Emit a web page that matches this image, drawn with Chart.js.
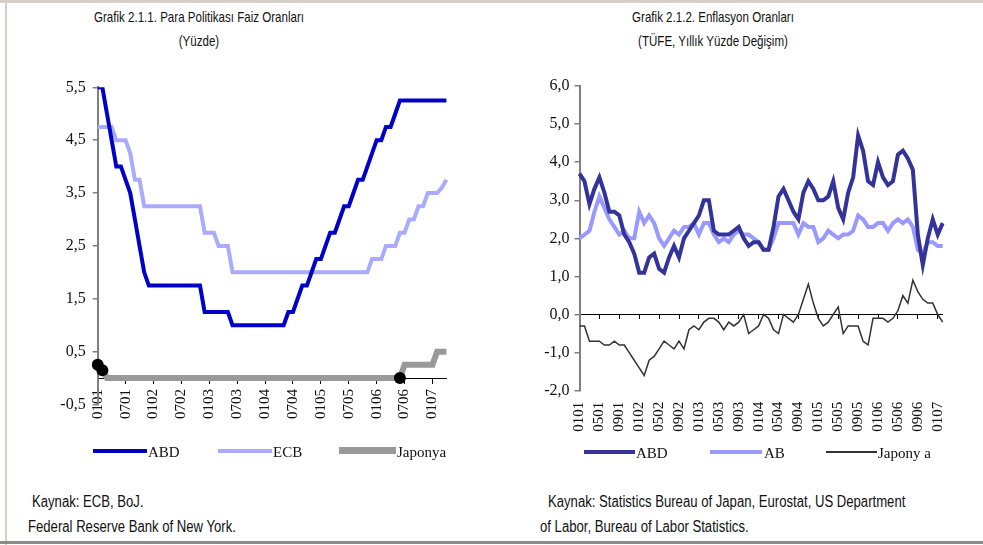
<!DOCTYPE html>
<html>
<head>
<meta charset="utf-8">
<script src="https://cdn.jsdelivr.net/npm/chart.js@4"></script>
<style>
  html, body { margin: 0; background: #fff; overflow: hidden; }
  #page { position: relative; width: 983px; height: 545px; background: #fff; overflow: hidden; }
  .abs { position: absolute; }
  .narrow { font-family: "Liberation Sans", Arial, sans-serif; color: #111; white-space: nowrap; }
  .title { font-size: 15px; line-height: 24px; text-align: center; width: 400px; transform: scaleX(0.77); transform-origin: 200px 0; }
  .cap { font-size: 16px; line-height: 25px; transform: scaleX(0.82); transform-origin: 0 0; }
  .serif { font-family: "Liberation Serif", "Times New Roman", serif; font-size: 15px; color: #111; line-height: 20px; white-space: nowrap; }
</style>
</head>
<body>
<div id="page">
  <div class="abs" style="left:0;top:0;width:983px;height:3px;background:#d4d0c8"></div>
  <div class="abs" style="left:5px;top:0;width:2px;height:545px;background:#d4d0c8"></div>
  <div class="abs" style="left:0;top:541px;width:983px;height:3px;background:#8a8a8a"></div>

  <div class="abs narrow title" style="left:-1px;top:5px">Grafik 2.1.1. Para Politikası Faiz Oranları<br>(Yüzde)</div>
  <div class="abs narrow title" style="left:513px;top:5px">Grafik 2.1.2. Enflasyon Oranları<br>(TÜFE, Yıllık Yüzde Değişim)</div>

  <canvas id="left" class="abs" style="left:0;top:0" width="491" height="470"></canvas>
  <canvas id="right" class="abs" style="left:491px;top:0" width="492" height="470"></canvas>

  <!-- legends -->
  <div class="abs" style="left:93px;top:449px;width:54px;height:4px;background:#0000c8"></div>
  <div class="abs serif" style="left:148px;top:442px">ABD</div>
  <div class="abs" style="left:218px;top:449px;width:54px;height:4px;background:#aaaaff"></div>
  <div class="abs serif" style="left:273px;top:442px">ECB</div>
  <div class="abs" style="left:339px;top:447px;width:57px;height:7px;background:#999999"></div>
  <div class="abs serif" style="left:397px;top:442px">Japonya</div>

  <div class="abs" style="left:584px;top:450px;width:51px;height:4px;background:#333399"></div>
  <div class="abs serif" style="left:636px;top:443px">ABD</div>
  <div class="abs" style="left:710px;top:450px;width:52px;height:4px;background:#9999ff"></div>
  <div class="abs serif" style="left:764px;top:443px">AB</div>
  <div class="abs" style="left:826px;top:451px;width:51px;height:2px;background:#333333"></div>
  <div class="abs serif" style="left:878px;top:443px">Japony a</div>

  <div class="abs narrow cap" style="left:32px;top:489px">Kaynak: ECB, BoJ.</div>
  <div class="abs narrow cap" style="left:28px;top:514px">Federal Reserve Bank of New York.</div>
  <div class="abs narrow cap" style="left:548px;top:489px">Kaynak: Statistics Bureau of Japan, Eurostat, US Department</div>
  <div class="abs narrow cap" style="left:540px;top:514px">of Labor, Bureau of Labor Statistics.</div>
</div>

<script>
// months as MMYY, Jan 2001 .. Apr 2007
const months = [
  '0101','0201','0301','0401','0501','0601','0701','0801','0901','1001','1101','1201',
  '0102','0202','0302','0402','0502','0602','0702','0802','0902','1002','1102','1202',
  '0103','0203','0303','0403','0503','0603','0703','0803','0903','1003','1103','1203',
  '0104','0204','0304','0404','0504','0604','0704','0804','0904','1004','1104','1204',
  '0105','0205','0305','0405','0505','0605','0705','0805','0905','1005','1105','1205',
  '0106','0206','0306','0406','0506','0606','0706','0806','0906','1006','1106','1206',
  '0107','0207','0307','0407'
];
const monthsRight = months.slice(0, 74); // Jan 2001 .. Feb 2007

// policy rates (%)
const fedRate = [
  5.5, 5.5, 5.0, 4.5, 4.0, 4.0, 3.75, 3.5, 3.0, 2.5, 2.0, 1.75,
  1.75, 1.75, 1.75, 1.75, 1.75, 1.75, 1.75, 1.75, 1.75, 1.75, 1.75, 1.25,
  1.25, 1.25, 1.25, 1.25, 1.25, 1.0, 1.0, 1.0, 1.0, 1.0, 1.0, 1.0,
  1.0, 1.0, 1.0, 1.0, 1.0, 1.25, 1.25, 1.5, 1.75, 1.75, 2.0, 2.25,
  2.25, 2.5, 2.75, 2.75, 3.0, 3.25, 3.25, 3.5, 3.75, 3.75, 4.0, 4.25,
  4.5, 4.5, 4.75, 4.75, 5.0, 5.25, 5.25, 5.25, 5.25, 5.25, 5.25, 5.25,
  5.25, 5.25, 5.25, 5.25
];
const ecbRate = [
  4.75, 4.75, 4.75, 4.75, 4.5, 4.5, 4.5, 4.25, 3.75, 3.75, 3.25, 3.25,
  3.25, 3.25, 3.25, 3.25, 3.25, 3.25, 3.25, 3.25, 3.25, 3.25, 3.25, 2.75,
  2.75, 2.75, 2.5, 2.5, 2.5, 2.0, 2.0, 2.0, 2.0, 2.0, 2.0, 2.0,
  2.0, 2.0, 2.0, 2.0, 2.0, 2.0, 2.0, 2.0, 2.0, 2.0, 2.0, 2.0,
  2.0, 2.0, 2.0, 2.0, 2.0, 2.0, 2.0, 2.0, 2.0, 2.0, 2.0, 2.25,
  2.25, 2.25, 2.5, 2.5, 2.5, 2.75, 2.75, 3.0, 3.0, 3.25, 3.25, 3.5,
  3.5, 3.5, 3.6, 3.75
];
const bojRate = [
  0.25, 0.15, 0, 0, 0, 0, 0, 0, 0, 0, 0, 0,
  0, 0, 0, 0, 0, 0, 0, 0, 0, 0, 0, 0,
  0, 0, 0, 0, 0, 0, 0, 0, 0, 0, 0, 0,
  0, 0, 0, 0, 0, 0, 0, 0, 0, 0, 0, 0,
  0, 0, 0, 0, 0, 0, 0, 0, 0, 0, 0, 0,
  0, 0, 0, 0, 0, 0, 0.25, 0.25, 0.25, 0.25, 0.25, 0.25,
  0.25, 0.5, 0.5, 0.5
];
const bojDots = [0, 1, 65];

// CPI, annual % change
const cpiUS = [
  3.7, 3.5, 2.9, 3.3, 3.6, 3.2, 2.7, 2.7, 2.6, 2.1, 1.9, 1.6,
  1.1, 1.1, 1.5, 1.6, 1.2, 1.1, 1.5, 1.8, 1.5, 2.0, 2.2, 2.4,
  2.6, 3.0, 3.0, 2.2, 2.1, 2.1, 2.1, 2.2, 2.3, 2.0, 1.8, 1.9,
  1.9, 1.7, 1.7, 2.3, 3.1, 3.3, 3.0, 2.7, 2.5, 3.2, 3.5, 3.3,
  3.0, 3.0, 3.1, 3.5, 2.8, 2.5, 3.2, 3.6, 4.7, 4.3, 3.5, 3.4,
  4.0, 3.6, 3.4, 3.5, 4.2, 4.3, 4.1, 3.8, 2.1, 1.3, 2.0, 2.5,
  2.1, 2.4
];
const cpiEU = [
  2.0, 2.1, 2.2, 2.7, 3.1, 2.8, 2.5, 2.3, 2.1, 2.2, 2.0, 2.0,
  2.7, 2.4, 2.6, 2.4, 2.0, 1.8, 2.0, 2.2, 2.1, 2.3, 2.3, 2.4,
  2.1, 2.4, 2.4, 2.1, 1.9, 2.0, 1.9, 2.1, 2.2, 2.1, 2.1, 2.0,
  1.9, 1.7, 1.7, 2.0, 2.4, 2.4, 2.4, 2.4, 2.1, 2.4, 2.3, 2.3,
  1.9, 2.0, 2.2, 2.1, 2.0, 2.1, 2.1, 2.2, 2.6, 2.5, 2.3, 2.3,
  2.4, 2.4, 2.2, 2.4, 2.5, 2.4, 2.5, 2.3, 1.7, 1.6, 1.9, 1.9,
  1.8, 1.8
];
const cpiJP = [
  -0.3, -0.3, -0.7, -0.7, -0.7, -0.8, -0.8, -0.7, -0.8, -0.8, -1.0, -1.2,
  -1.4, -1.6, -1.2, -1.1, -0.9, -0.7, -0.8, -0.9, -0.7, -0.9, -0.4, -0.3,
  -0.4, -0.2, -0.1, -0.1, -0.2, -0.4, -0.2, -0.3, -0.2, 0.0, -0.5, -0.4,
  -0.3, 0.0, -0.1, -0.4, -0.5, 0.0, -0.1, -0.2, 0.0, 0.4, 0.8, 0.3,
  -0.1, -0.3, -0.2, 0.0, 0.2, -0.5, -0.3, -0.3, -0.3, -0.7, -0.8, -0.1,
  -0.1, -0.1, -0.2, -0.1, 0.1, 0.5, 0.3, 0.9, 0.6, 0.4, 0.3, 0.3,
  0.0, -0.2
];

const yTicksLeft = [-0.5, 0.5, 1.5, 2.5, 3.5, 4.5, 5.5];
const yTicksRight = [-2, -1, 0, 1, 2, 3, 4, 5, 6];

const serif = { family: '"Liberation Serif", "Times New Roman", serif', size: 15 };
const serifY = { family: '"Liberation Serif", "Times New Roman", serif', size: 16 };
const fmt = v => v.toFixed(1).replace('.', ',');

const yAxis = (min, max, ticks, pad) => ({
  min: min,
  max: max,
  afterBuildTicks: s => { s.ticks = ticks.map(v => ({ value: v })); },
  afterFit: s => { s.width = 40; },
  grid: { drawOnChartArea: false, tickLength: 5, color: '#808080', lineWidth: 1.5 },
  border: { color: '#808080', width: 2 },
  ticks: { callback: fmt, padding: pad, font: serifY, color: '#111' }
});

const everyNth = n => s => { s.ticks = s.ticks.filter(t => t.value % n === 0); };

new Chart(document.getElementById('left'), {
  type: 'line',
  data: {
    labels: months,
    datasets: [
      { label: 'ABD', data: fedRate, borderColor: '#0000c8', borderWidth: 4, pointRadius: 0 },
      { label: 'ECB', data: ecbRate, borderColor: '#aaaaff', borderWidth: 4, pointRadius: 0 },
      {
        label: 'Japonya', data: bojRate, borderColor: '#999999', borderWidth: 6,
        pointRadius: ctx => bojDots.includes(ctx.dataIndex) ? 6 : 0,
        pointBackgroundColor: '#000', pointBorderWidth: 0
      }
    ]
  },
  options: {
    responsive: false,
    animation: false,
    layout: { padding: { left: 57.7, top: 87.3, right: 44.6, bottom: 65.5 } },
    plugins: { legend: { display: false }, tooltip: { enabled: false } },
    scales: {
      x: {
        position: { y: 0 },
        afterBuildTicks: everyNth(6),
        grid: { drawOnChartArea: false, tickLength: 5, color: '#000' },
        border: { color: '#000', width: 1 },
        ticks: {
          autoSkip: false, minRotation: 90, maxRotation: 90, padding: 6, font: serif, color: '#111',
          callback: function (v) { return this.getLabelForValue(v); }
        }
      },
      y: yAxis(-0.5, 5.5, yTicksLeft, 7)
    }
  }
});

new Chart(document.getElementById('right'), {
  type: 'line',
  data: {
    labels: monthsRight,
    datasets: [
      { label: 'ABD', data: cpiUS, borderColor: '#333399', borderWidth: 4, pointRadius: 0 },
      { label: 'AB', data: cpiEU, borderColor: '#9999ff', borderWidth: 4, pointRadius: 0 },
      { label: 'Japonya', data: cpiJP, borderColor: '#333333', borderWidth: 1.5, pointRadius: 0 }
    ]
  },
  options: {
    responsive: false,
    animation: false,
    layout: { padding: { left: 48.5, top: 86, right: 40.3, bottom: 29.3 } },
    plugins: { legend: { display: false }, tooltip: { enabled: false } },
    scales: {
      x: {
        position: { y: 0 },
        afterBuildTicks: everyNth(4),
        grid: { drawOnChartArea: false, tickLength: 4, color: '#000' },
        border: { color: '#000', width: 1 },
        ticks: { display: false }
      },
      x2: {
        type: 'category',
        position: 'bottom',
        afterBuildTicks: everyNth(4),
        afterFit: s => { s.height = 50; },
        grid: { display: false, drawTicks: false },
        border: { display: false },
        ticks: {
          autoSkip: false, minRotation: 90, maxRotation: 90, padding: 11, font: serif, color: '#111',
          callback: function (v) { return this.getLabelForValue(v); }
        }
      },
      y: yAxis(-2, 6, yTicksRight, 5)
    }
  }
});
</script>
</body>
</html>
